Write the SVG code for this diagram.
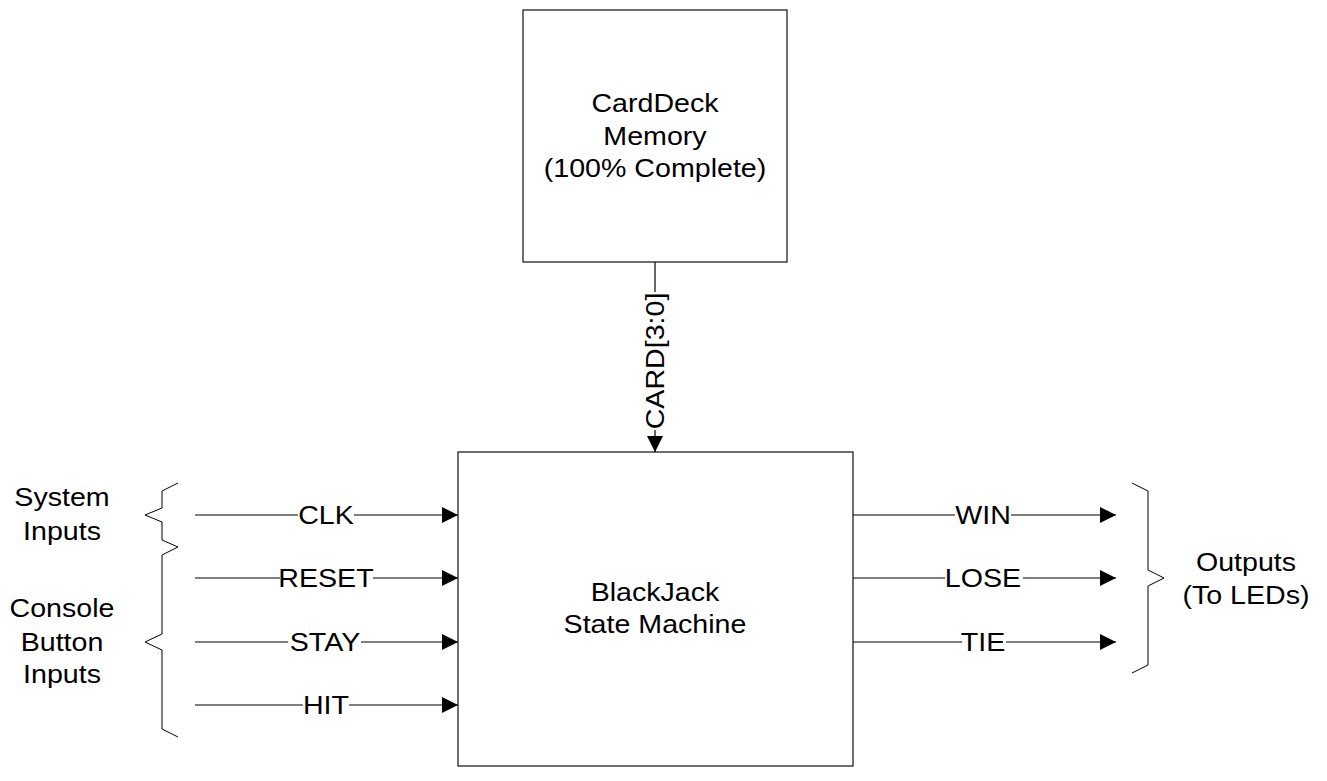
<svg xmlns="http://www.w3.org/2000/svg" width="1327" height="781" viewBox="0 0 1327 781">
<defs>
<style>
.box{fill:#fff;stroke:#222;stroke-width:1.3}
.wire{fill:none;stroke:#000;stroke-width:1.2}
.brace{fill:none;stroke:#000;stroke-width:1}
.head{fill:#000}
.bg{fill:#fff}
text{font-family:"Liberation Sans",Arial,sans-serif;font-size:26px;fill:#000;text-anchor:middle}
</style>
<marker id="arr" viewBox="0 0 16 16" refX="16" refY="8" markerWidth="16" markerHeight="16" markerUnits="userSpaceOnUse" orient="auto">
<path class="head" d="M0,0 L16,8 L0,16 Z"/>
</marker>
</defs>
<rect width="1327" height="781" fill="#fff"/>

<g id="carddeck">
<rect class="box" x="523" y="10" width="264" height="252"/>
<text transform="translate(655,112) scale(1.1,1)">CardDeck</text>
<text transform="translate(655,145) scale(1.1,1)">Memory</text>
<text transform="translate(655,177) scale(1.1,1)">(100% Complete)</text>
</g>

<g id="statemachine">
<rect class="box" x="458" y="452" width="395" height="314"/>
<text transform="translate(655,601) scale(1.1,1)">BlackJack</text>
<text transform="translate(655,633) scale(1.1,1)">State Machine</text>
</g>

<g id="connectors">
<line class="wire" x1="655" y1="262" x2="655" y2="452" marker-end="url(#arr)"/>
<line class="wire" x1="195" y1="515" x2="458" y2="515" marker-end="url(#arr)"/>
<line class="wire" x1="195" y1="578" x2="458" y2="578" marker-end="url(#arr)"/>
<line class="wire" x1="195" y1="642" x2="458" y2="642" marker-end="url(#arr)"/>
<line class="wire" x1="195" y1="705" x2="458" y2="705" marker-end="url(#arr)"/>
<line class="wire" x1="853" y1="515" x2="1116" y2="515" marker-end="url(#arr)"/>
<line class="wire" x1="853" y1="578" x2="1116" y2="578" marker-end="url(#arr)"/>
<line class="wire" x1="853" y1="642" x2="1116" y2="642" marker-end="url(#arr)"/>
</g>

<g id="labels">
<rect class="bg" x="644" y="292" width="24" height="138"/>
<text transform="translate(664,361) rotate(-90) scale(1.1,1)">CARD[3:0]</text>
<rect class="bg" x="298" y="503" width="56" height="24"/>
<text transform="translate(326,524) scale(1.1,1)">CLK</text>
<rect class="bg" x="280" y="566" width="93" height="24"/>
<text transform="translate(326,587) scale(1.1,1)">RESET</text>
<rect class="bg" x="288" y="630" width="73" height="24"/>
<text transform="translate(325,651) scale(1.1,1)">STAY</text>
<rect class="bg" x="303" y="693" width="46" height="24"/>
<text transform="translate(326,714) scale(1.1,1)">HIT</text>
<rect class="bg" x="955" y="503" width="56" height="24"/>
<text transform="translate(983,524) scale(1.1,1)">WIN</text>
<rect class="bg" x="945" y="566" width="78" height="24"/>
<text transform="translate(983,587) scale(1.1,1)">LOSE</text>
<rect class="bg" x="962" y="630" width="44" height="24"/>
<text transform="translate(983,651) scale(1.1,1)">TIE</text>
</g>

<g id="system-inputs">
<polyline class="brace" points="178,483 162,491 162,508 145,515 162,522 162,540 178,547"/>
<text transform="translate(62,506) scale(1.1,1)">System</text>
<text transform="translate(62,540) scale(1.1,1)">Inputs</text>
</g>

<g id="console-inputs">
<polyline class="brace" points="178,547 162,555 162,634 145,642 162,650 162,729 178,737"/>
<text transform="translate(62,617) scale(1.1,1)">Console</text>
<text transform="translate(62,651) scale(1.1,1)">Button</text>
<text transform="translate(62,683) scale(1.1,1)">Inputs</text>
</g>

<g id="outputs">
<polyline class="brace" points="1132,483 1148,491 1148,570 1164,578 1148,586 1148,665 1132,673"/>
<text transform="translate(1246,571) scale(1.1,1)">Outputs</text>
<text transform="translate(1246,604) scale(1.1,1)">(To LEDs)</text>
</g>
</svg>
